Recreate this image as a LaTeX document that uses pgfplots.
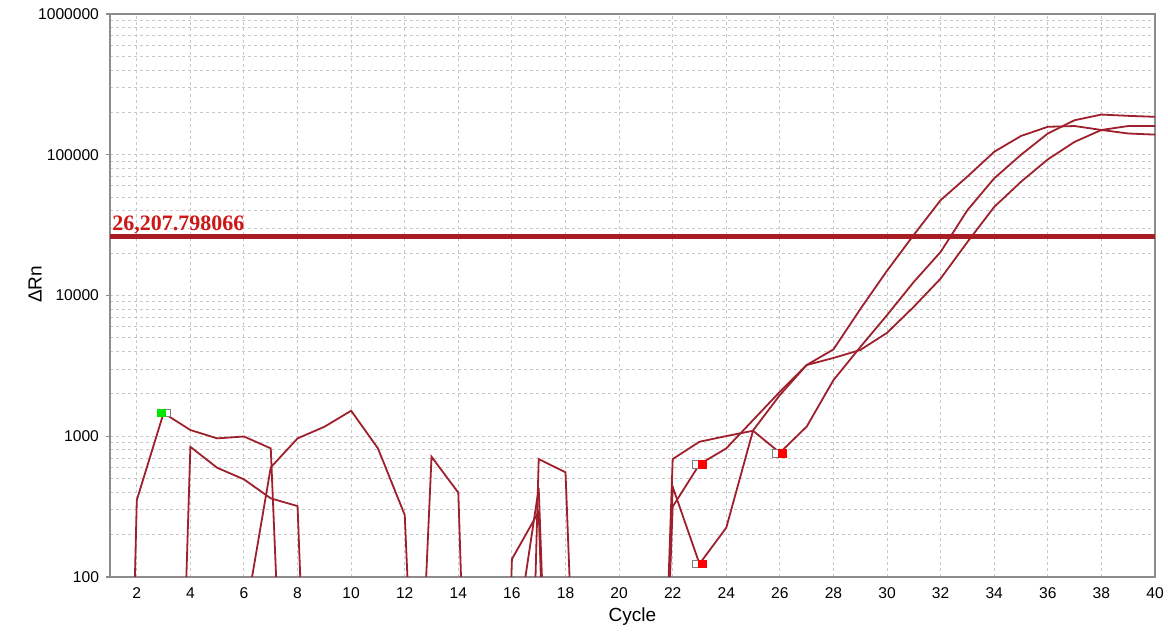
\documentclass[border=0pt]{standalone}
\usepackage{fontspec}
\setmainfont{Liberation Sans}
\newfontfamily\thrfont{Liberation Serif}
\usepackage{pgfplots}
\pgfplotsset{compat=1.18}
\definecolor{curvec}{RGB}{158,32,44}
\definecolor{threshc}{RGB}{168,28,36}
\definecolor{labelc}{RGB}{205,22,22}
\definecolor{gridc}{RGB}{200,200,200}
\definecolor{axisc}{RGB}{140,140,140}
\definecolor{markg}{RGB}{0,230,0}
\definecolor{markr}{RGB}{255,0,0}
\begin{document}
\begin{tikzpicture}
\begin{axis}[
  at={(0,0)}, anchor=south west,
  scale only axis, width=522.5pt, height=281.5pt,
  xmin=1, xmax=40, ymode=log, ymin=100, ymax=1000000,
  xtick={2,4,...,40},
  ytick={100,1000,10000,100000,1000000},
  yticklabels={100,1000,10000,100000,1000000},
  minor ytick={200,300,400,500,600,700,800,900,2000,3000,4000,5000,6000,7000,8000,9000,20000,30000,40000,50000,60000,70000,80000,90000,200000,300000,400000,500000,600000,700000,800000,900000},
  grid=both,
  major grid style={gridc, line width=0.5pt, dash pattern=on 1.5pt off 1.5pt},
  minor grid style={gridc, line width=0.5pt, dash pattern=on 1.5pt off 1.5pt},
  axis line style={axisc, line width=0.7pt},
  xtick style={draw=none},
  ytick style={axisc, line width=0.6pt},
  minor tick length=0pt, major tick length=2pt,
  tick align=outside, ytick pos=left,
  /pgf/number format/assume math mode=true,
  tick label style={font=\fontsize{7.8}{9}\selectfont, text=black},
  x tick label style={yshift=0pt},
  xlabel={Cycle}, ylabel={ΔRn},
  label style={font=\fontsize{9.5}{11}\selectfont},
  x label style={at={(axis description cs:0.5,0)}, anchor=center, yshift=-20pt},
  y label style={at={(axis description cs:0,0.52)}, anchor=center, rotate=0, yshift=37.5pt},
  clip=true,
]
% well 1
\addplot[curvec, line width=0.9pt] coordinates {
(1,5e-6) (2,352) (3,1463) (4,1107) (5,966) (6,996) (7,820) (8,0.022) (9,0.01) (10,0.01)
(11,0.01) (12,0.038) (13,715) (14,397) (15,4e-4) (16,7e-5) (17,689) (18,554) (19,0.006) (20,0.01)
(21,0.003) (22,316) (23,632) (24,820) (25,1303) (26,2070) (27,3206) (28,4140) (29,8000) (30,15000)
(31,27000) (32,47600) (33,70000) (34,105000) (35,136000) (36,158000) (37,160000) (38,150000) (39,141600) (40,139000)};
% well 2
\addplot[curvec, line width=0.9pt] coordinates {
(1,1e-4) (2,1e-4) (3,5.7e-4) (4,841) (5,597) (6,494) (7,362) (8,319) (9,0.0029) (10,0.01)
(11,0.01) (12,0.01) (13,0.01) (14,0.01) (15,6e-5) (16,134) (17,291) (18,4.6e-4) (19,0.01) (20,0.01)
(21,0.0018) (22,689) (23,914) (24,1003) (25,1094) (26,764) (27,1170) (28,2505) (29,4300) (30,7260)
(31,12500) (32,20400) (33,40400) (34,68000) (35,100000) (36,141600) (37,176000) (38,193000) (39,189000) (40,186000)};
% well 3
\addplot[curvec, line width=0.9pt] coordinates {
(1,1e-4) (2,1e-4) (3,1e-4) (4,1e-3) (5,1e-3) (6,46) (7,601) (8,966) (9,1167) (10,1518)
(11,820) (12,276) (13,0.011) (14,0.01) (15,0.01) (16,23) (17,427) (18,0.0024) (19,0.01) (20,0.01)
(21,0.002) (22,437) (23,124) (24,224) (25,1100) (26,1963) (27,3206) (28,3600) (29,4100) (30,5430)
(31,8320) (32,13200) (33,24000) (34,42600) (35,64300) (36,92700) (37,123500) (38,150000) (39,160000) (40,160000)};
% threshold
\addplot[threshc, line width=2.8pt] coordinates {(1,26207.798066) (40,26207.798066)};
% markers
\addplot[only marks, mark=square*, mark size=1.9pt, mark options={draw=gray, fill=white, line width=0.5pt}] coordinates {(3.13,1463) (22.87,632) (22.87,124) (25.85,755)};
\addplot[only marks, mark=square*, mark size=1.9pt, mark options={draw=markg, fill=markg}] coordinates {(2.91,1463)};
\addplot[only marks, mark=square*, mark size=1.9pt, mark options={draw=markr, fill=markr}] coordinates {(23.1,632) (23.1,124) (26.1,755)};
\node[anchor=base west, inner sep=0pt, xshift=1pt, yshift=2.9pt, text=labelc, font=\thrfont\bfseries\fontsize{11}{13}\selectfont] at (axis cs:1,26207.798066) {26,207.798066};
\end{axis}
\pgfresetboundingbox
\path[use as bounding box] (-55pt,-28pt) rectangle (529pt,288.5pt);
\end{tikzpicture}
\end{document}
